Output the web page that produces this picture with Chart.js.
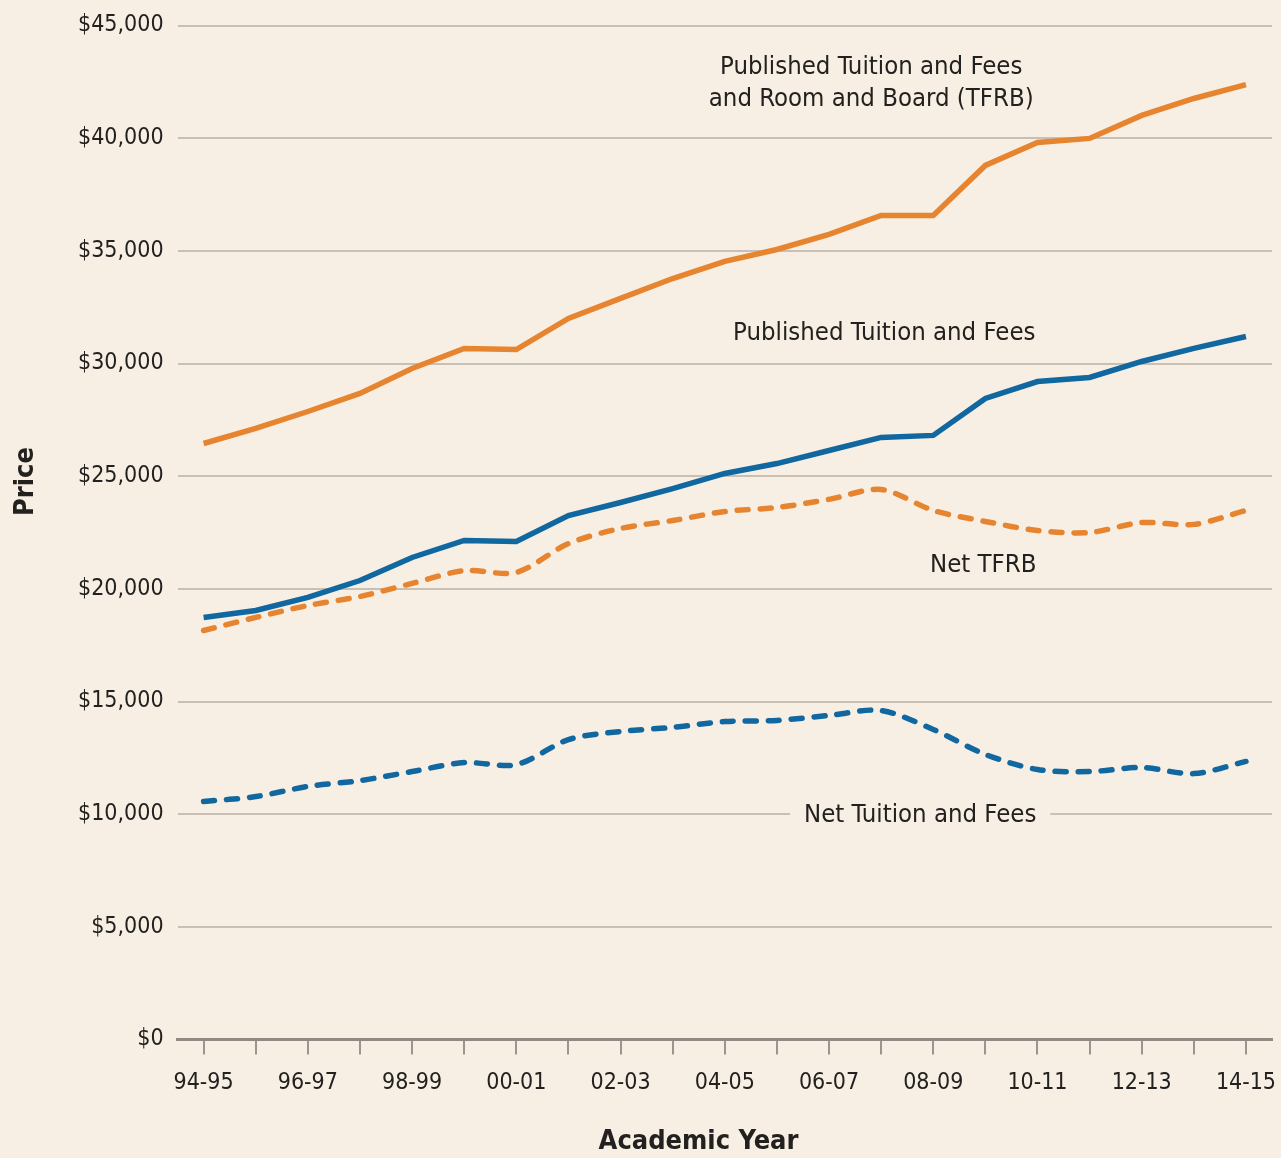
<!DOCTYPE html>
<html>
<head>
<meta charset="utf-8">
<script src="https://cdn.jsdelivr.net/npm/chart.js@4"></script>
<style>
  html, body { margin: 0; padding: 0; background: #f7efe3; }
  #wrap { width: 1281px; height: 1158px; }
</style>
</head>
<body>
<div id="wrap"><canvas id="price-chart" width="1281" height="1158"></canvas></div>
<script>
// academic years
var years = ["94-95","95-96","96-97","97-98","98-99","99-00","00-01","01-02","02-03","03-04",
  "04-05","05-06","06-07","07-08","08-09","09-10","10-11","11-12","12-13","13-14","14-15"];

// values, in dollars
var publishedTFRB = [26450,27120,27870,28670,29780,30670,30620,32000,32890,33770,
  34530,35060,35730,36570,36570,38790,39810,39990,41010,41760,42380];
var publishedTF = [18730,19040,19620,20370,21390,22150,22100,23250,23830,24450,
  25120,25560,26140,26720,26810,28450,29200,29380,30090,30670,31200];
var netTFRB = [18150,18730,19260,19660,20240,20810,20730,22010,22680,23030,
  23430,23610,23970,24410,23480,22990,22590,22500,22940,22860,23480];
var netTF = [10560,10780,11230,11490,11890,12290,12200,13310,13670,13850,
  14110,14160,14380,14600,13760,12650,11980,11890,12070,11800,12340];

// labels placed next to the lines (x = category index, y = dollars)
var labelText = ["Published Tuition and Fees", "and Room and Board (TFRB)",
  "Published Tuition and Fees", "Net TFRB", "Net Tuition and Fees"];
var labelX = [12.81, 12.81, 13.06, 14.96, 13.75];
var labelY = [43140, 41720, 31330, 21040, 9940];
var labelClearBg = [false, false, false, false, true];

var xTitle = "Academic Year";
var yTitle = "Price";

var ORANGE = "#e6842f";
var BLUE = "#11679f";
var BG = "#f7efe3";
var TEXT = "#232120";
var FONT = "'Liberation Sans Narrow', 'DejaVu Sans Condensed', 'Arial Narrow', sans-serif";

Chart.defaults.font.family = FONT;
Chart.defaults.color = TEXT;

// line labels + axis titles (titles drawn here so they can sit off-centre like the original)
var lineLabels = {
  id: "lineLabels",
  afterDraw: function(chart) {
    var ctx = chart.ctx;
    var xs = chart.scales.x, ys = chart.scales.y;
    var area = chart.chartArea;
    ctx.save();
    ctx.font = "25.5px " + FONT;
    ctx.textAlign = "center";
    ctx.textBaseline = "middle";
    for (var i = 0; i < labelText.length; i++) {
      var px = xs.getPixelForValue(labelX[i]);
      var py = ys.getPixelForValue(labelY[i]);
      if (labelClearBg[i]) {
        var w = ctx.measureText(labelText[i]).width;
        ctx.fillStyle = BG;
        ctx.fillRect(px - w / 2 - 14, py - 14, w + 28, 28);
      }
      ctx.fillStyle = TEXT;
      ctx.fillText(labelText[i], px, py);
    }
    ctx.font = "bold 27px " + FONT;
    ctx.fillText(xTitle, area.left + 521, area.bottom + 102);
    ctx.translate(area.left - 152, area.top + 456);
    ctx.rotate(-Math.PI / 2);
    ctx.fillText(yTitle, 0, 0);
    ctx.restore();
  }
};

new Chart(document.getElementById("price-chart"), {
  type: "line",
  data: {
    labels: years,
    datasets: [
      { label: "Published TFRB", data: publishedTFRB, borderColor: ORANGE, borderWidth: 5.5, tension: 0 },
      { label: "Published Tuition and Fees", data: publishedTF, borderColor: BLUE, borderWidth: 5.5, tension: 0 },
      { label: "Net TFRB", data: netTFRB, borderColor: ORANGE, borderWidth: 5.5,
        borderDash: [11, 12], borderCapStyle: "round", tension: 0.3 },
      { label: "Net Tuition and Fees", data: netTF, borderColor: BLUE, borderWidth: 5.5,
        borderDash: [11, 12], borderCapStyle: "round", tension: 0.3 }
    ]
  },
  options: {
    responsive: false,
    animation: false,
    layout: { padding: { top: 8, right: 9, left: 64, bottom: 46 } },
    elements: { point: { radius: 0 } },
    plugins: { legend: { display: false }, tooltip: { enabled: false } },
    scales: {
      x: {
        offset: true,
        grid: { display: true, offset: false, drawOnChartArea: false, drawTicks: true,
          tickLength: 15, color: "#9a958e", lineWidth: 2 },
        border: { display: true, color: "#8f8a84", width: 3 },
        ticks: {
          autoSkip: false, maxRotation: 0, padding: 0,
          font: { size: 23, lineHeight: 2.5 },
          callback: function(val, i) { return i % 2 ? "" : years[i]; }
        }
      },
      y: {
        min: 0, max: 45000,
        grid: { color: "#c8c0b4", lineWidth: 2, drawTicks: false },
        border: { display: false },
        ticks: {
          stepSize: 5000, padding: 14, font: { size: 23, lineHeight: 1.0 },
          callback: function(v) { return "$" + v.toLocaleString("en-US"); }
        }
      }
    }
  },
  plugins: [lineLabels]
});
</script>
</body>
</html>
